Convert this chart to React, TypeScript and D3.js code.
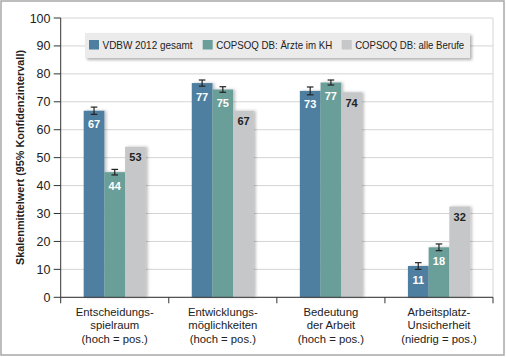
import React from "react";
import * as d3 from "d3";

const categories = [
  ["Entscheidungs-", "spielraum", "(hoch = pos.)"],
  ["Entwicklungs-", "möglichkeiten", "(hoch = pos.)"],
  ["Bedeutung", "der Arbeit", "(hoch = pos.)"],
  ["Arbeitsplatz-", "Unsicherheit", "(niedrig = pos.)"],
];
const seriesNames = ["VDBW 2012 gesamt", "COPSOQ DB: Ärzte im KH", "COPSOQ DB: alle Berufe"];
const vdbw = [66.8, 76.7, 73.9, 11.2];
const aerzte = [44.8, 74.4, 76.9, 17.9];
const alle = [53.9, 66.8, 73.4, 32.5];
const vdbwLabels = ["67", "77", "73", "11"];
const aerzteLabels = ["44", "75", "77", "18"];
const alleLabels = ["53", "67", "74", "32"];
const vdbwErr = [1.3, 1.1, 1.4, 1.2];
const aerzteErr = [1.0, 1.0, 0.9, 1.2];
const yTicks = [0, 10, 20, 30, 40, 50, 60, 70, 80, 90, 100];

const colors = ["#4f7fa0", "#6a9e99", "#c6c7c9"];
const labelColors = ["#ffffff", "#ffffff", "#222222"];
const FONT = "'Liberation Sans', Arial, sans-serif";

export default function App() {
  const W = 506, H = 357;
  const left = 60.7, right = 493, top = 18, bottom = 297.3;
  const x = d3.scaleBand<number>().domain(d3.range(categories.length)).range([left, right]);
  const y = d3.scaleLinear().domain([0, 100]).range([bottom, top]);
  const barW = 20.7;
  const values = [vdbw, aerzte, alle];
  const labels = [vdbwLabels, aerzteLabels, alleLabels];
  const errs = [vdbwErr, aerzteErr, null];
  const legendX = [89, 202.7, 341.7];
  const legendW = [90, 116, 109];

  return (
    <svg width={W} height={H} style={{ position: "absolute", left: 0, top: 0 }} fontFamily={FONT}>
      <defs>
        <filter id="sh" x="-30%" y="-10%" width="160%" height="120%">
          <feGaussianBlur in="SourceAlpha" stdDeviation="1.5" />
          <feOffset dx="2" dy="0" result="b" />
          <feComponentTransfer><feFuncA type="linear" slope="0.25" /></feComponentTransfer>
          <feMerge><feMergeNode /><feMergeNode in="SourceGraphic" /></feMerge>
        </filter>
        <filter id="lsh" x="-5%" y="-20%" width="110%" height="160%">
          <feGaussianBlur in="SourceAlpha" stdDeviation="1.5" />
          <feOffset dx="1.5" dy="2" />
          <feComponentTransfer><feFuncA type="linear" slope="0.3" /></feComponentTransfer>
          <feMerge><feMergeNode /><feMergeNode in="SourceGraphic" /></feMerge>
        </filter>
      </defs>
      <rect x={0} y={0} width={W} height={H} fill="#fff" />
      <rect x={1} y={1} width={503} height={354} fill="none" stroke="#a8a8a8" strokeWidth={1.5} />
      {yTicks.map((t) => (
        <line key={t} x1={left} x2={right} y1={y(t)} y2={y(t)} stroke="#d4d4d4" strokeWidth={1} />
      ))}
      <line x1={right} x2={right} y1={top} y2={bottom} stroke="#d4d4d4" strokeWidth={1} />
      {categories.map((_, i) => {
        const cx = (x(i) as number) + x.bandwidth() / 2;
        return values.map((vals, s) => {
          const bx = cx + (s - 1.5) * barW;
          const v = vals[i];
          return (
            <rect key={`${i}-${s}`} x={bx} y={y(v)} width={barW} height={bottom - y(v)} fill={colors[s]} filter="url(#sh)" />
          );
        });
      })}
      {categories.map((_, i) => {
        const cx = (x(i) as number) + x.bandwidth() / 2;
        return values.map((vals, s) => {
          const bx = cx + (s - 1.5) * barW;
          const v = vals[i];
          const e = errs[s];
          const mx = bx + barW / 2;
          return (
            <g key={`l${i}-${s}`}>
              {e && (
                <g stroke="#222" strokeWidth={1.2}>
                  <line x1={mx} x2={mx} y1={y(v + e[i])} y2={y(v - e[i])} />
                  <line x1={mx - 3.3} x2={mx + 3.3} y1={y(v + e[i])} y2={y(v + e[i])} />
                  <line x1={mx - 3.3} x2={mx + 3.3} y1={y(v - e[i])} y2={y(v - e[i])} />
                </g>
              )}
              <text x={mx} y={y(v) + (s === 2 ? 14.5 : 17.5)} textAnchor="middle" fontSize={11} fontWeight="bold" fill={labelColors[s]}>
                {labels[s][i]}
              </text>
            </g>
          );
        });
      })}
      <line x1={left} x2={left} y1={top} y2={bottom} stroke="#333" strokeWidth={1} />
      <line x1={left} x2={right} y1={bottom} y2={bottom} stroke="#333" strokeWidth={1} />
      {yTicks.map((t) => (
        <g key={`t${t}`}>
          <line x1={left - 7} x2={left} y1={y(t)} y2={y(t)} stroke="#333" />
          <text x={50.5} y={y(t)} dy="0.36em" textAnchor="end" fontSize={12.5} fill="#222">{t}</text>
        </g>
      ))}
      {d3.range(categories.length + 1).map((i) => {
        const tx = i < categories.length ? (x(i) as number) : right;
        return <line key={`xt${i}`} x1={tx} x2={tx} y1={bottom} y2={bottom + 6} stroke="#333" />;
      })}
      {categories.map((lines, i) => {
        const cx = (x(i) as number) + x.bandwidth() / 2;
        return (
          <text key={`xl${i}`} textAnchor="middle" fontSize={11.3} fill="#222">
            {lines.map((ln, k) => (
              <tspan key={k} x={cx} y={315.5 + k * 13.5}>{ln}</tspan>
            ))}
          </text>
        );
      })}
      <text transform={`translate(23.5,157.5) rotate(-90)`} textAnchor="middle" fontSize={11} fontWeight="bold" fill="#222" textLength={215} lengthAdjust="spacingAndGlyphs">
        Skalenmittelwert (95% Konfidenzintervall)
      </text>
      <rect x={85} y={33} width={385} height={25} fill="#ebebeb" filter="url(#lsh)" />
      {legendX.map((lx, s) => (
        <g key={`lg${s}`}>
          <rect x={lx} y={40} width={10} height={9.5} fill={colors[s]} />
          <text x={lx + 13.5} y={48.7} fontSize={11} fill="#222" textLength={legendW[s]} lengthAdjust="spacingAndGlyphs">{seriesNames[s]}</text>
        </g>
      ))}
    </svg>
  );
}
